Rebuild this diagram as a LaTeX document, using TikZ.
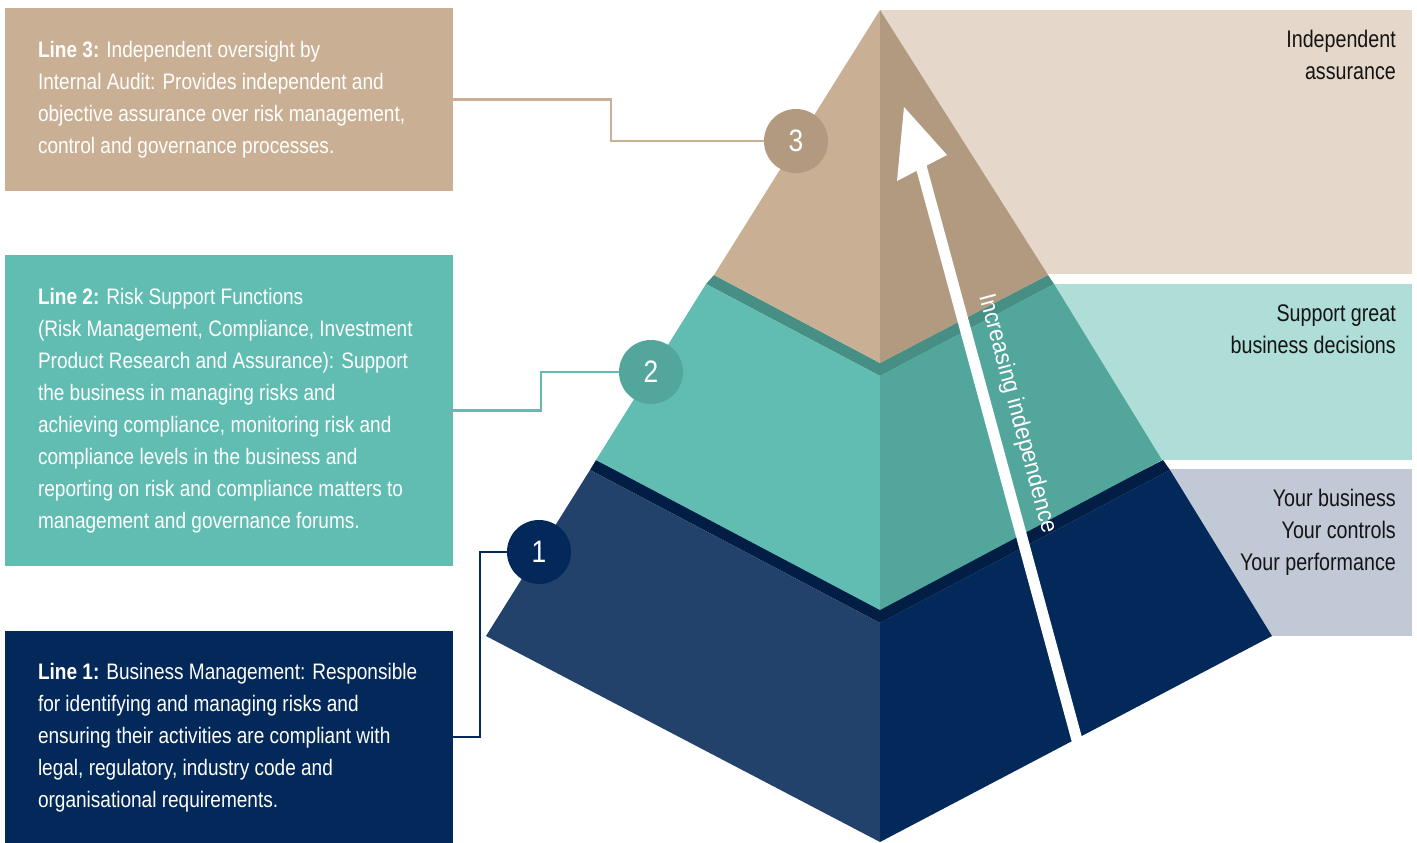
\documentclass[tikz,border=0pt]{standalone}
\usepackage{fontspec}
\setmainfont{Liberation Sans}[FakeStretch=0.85]
\newfontfamily\rfont{Liberation Sans}[FakeStretch=0.82]
\newfontfamily\afont{Liberation Sans}[FakeStretch=0.92]
\definecolor{navyL}{HTML}{23426B}
\definecolor{navyR}{HTML}{03295A}
\definecolor{navyS}{HTML}{021E45}
\definecolor{tealL}{HTML}{61BDB2}
\definecolor{tealR}{HTML}{53A69B}
\definecolor{tealS}{HTML}{478E85}
\definecolor{tanL}{HTML}{C9AF94}
\definecolor{tanR}{HTML}{B19A80}
\definecolor{panT}{HTML}{E5D8CA}
\definecolor{panM}{HTML}{AFDDD8}
\definecolor{panB}{HTML}{C1C8D6}
\definecolor{rtxt}{HTML}{141414}
\begin{document}
\begin{tikzpicture}[x=1pt,y=-1pt,
  box/.style={rectangle, inner sep=0pt, minimum width=448pt},
  ltext/.style={anchor=west, inner sep=0pt, align=left, text=white,
    font=\fontsize{22.4}{32}\selectfont},
  rtext/.style={anchor=north east, inner sep=0pt, align=right, text=rtxt,
    font=\rfont\fontsize{24}{32}\selectfont},
  circ/.style={circle, minimum size=64pt, inner sep=0pt, text=white,
    font=\fontsize{31}{31}\selectfont},
  conn/.style={line width=2.4pt}]
\useasboundingbox (0,0) rectangle (1417,843);

% right panels
\fill[panT] (880,10) rectangle (1412,274);
\fill[panM] (880,284) rectangle (1412,460);
\fill[panB] (880,469) rectangle (1412,636);

% navy layer
\fill[navyS] (590,470) -- (596,460) -- (880,605) -- (1163,460) -- (1170,470) -- (880,623) -- cycle;
\fill[navyL] (590,470) -- (486,636) -- (880,842) -- (880,623) -- cycle;
\fill[navyR] (880,623) -- (880,842) -- (1272,636) -- (1170,470) -- cycle;
% teal layer
\fill[tealS] (706,284) -- (714,275) -- (880,363) -- (1048,275) -- (1054,284) -- (880,376) -- cycle;
\fill[tealL] (706,284) -- (596,460) -- (880,610) -- (880,376) -- cycle;
\fill[tealR] (880,376) -- (880,610) -- (1162,460) -- (1054,284) -- cycle;
% tan layer
\fill[tanL] (880,10) -- (714,275) -- (880,363) -- cycle;
\fill[tanR] (880,10) -- (880,363) -- (1048,275) -- cycle;

% arrow
\coordinate (arrB) at (1077,740);
\coordinate (arrT) at (921,166);
\draw[white, line width=11pt] (arrB) -- (arrT);
\fill[white] (904,107) -- (897,181) -- (947,155) -- cycle;
\node[rotate=-75, text=white, inner sep=0pt, font=\afont\fontsize{24}{24}\selectfont] (inc) at (1017,414) {Increasing independence};

% left boxes
\node[box, fill=tanL, minimum height=183pt] (b3) at (229,99.5) {};
\node[box, fill=tealL, minimum height=311pt] (b2) at (229,410.5) {};
\node[box, fill=navyR, minimum height=212pt] (b1) at (229,737) {};

\node[ltext] (t3) at ([xshift=33pt]b3.west) {\strut\textbf{Line 3:} Independent oversight by\\
Internal Audit: Provides independent and\\
objective assurance over risk management,\\
control and governance processes.\strut};
\node[ltext] (t2) at ([xshift=33pt]b2.west) {\strut\textbf{Line 2:} Risk Support Functions\\
(Risk Management, Compliance, Investment\\
Product Research and Assurance): Support\\
the business in managing risks and\\
achieving compliance, monitoring risk and\\
compliance levels in the business and\\
reporting on risk and compliance matters to\\
management and governance forums.\strut};
\node[ltext] (t1) at ([xshift=33pt]b1.west) {\strut\textbf{Line 1:} Business Management: Responsible\\
for identifying and managing risks and\\
ensuring their activities are compliant with\\
legal, regulatory, industry code and\\
organisational requirements.\strut};

% connectors and circles
\coordinate (p3) at (796,141);
\coordinate (p2) at (651,372);
\coordinate (p1) at (539,552);
\draw[conn, draw=tanL] (b3.east) -- ++(158,0) |- (p3);
\draw[conn, draw=tealL] (b2.east) -- ++(88,0) |- (p2);
\draw[conn, draw=navyR] (b1.east) -- ++(27,0) |- (p1);
\node[circ, fill=tanR] (c3) at (p3) {3};
\node[circ, fill=tealR] (c2) at (p2) {2};
\node[circ, fill=navyR] (c1) at (p1) {1};

% right texts
\node[rtext] (r3) at (1396,24.6) {\strut Independent\\assurance};
\node[rtext] (r2) at (1396,298.6) {\strut Support great\\business decisions};
\node[rtext] (r1) at (1396,483.6) {\strut Your business\\Your controls\\Your performance};
\end{tikzpicture}
\end{document}
